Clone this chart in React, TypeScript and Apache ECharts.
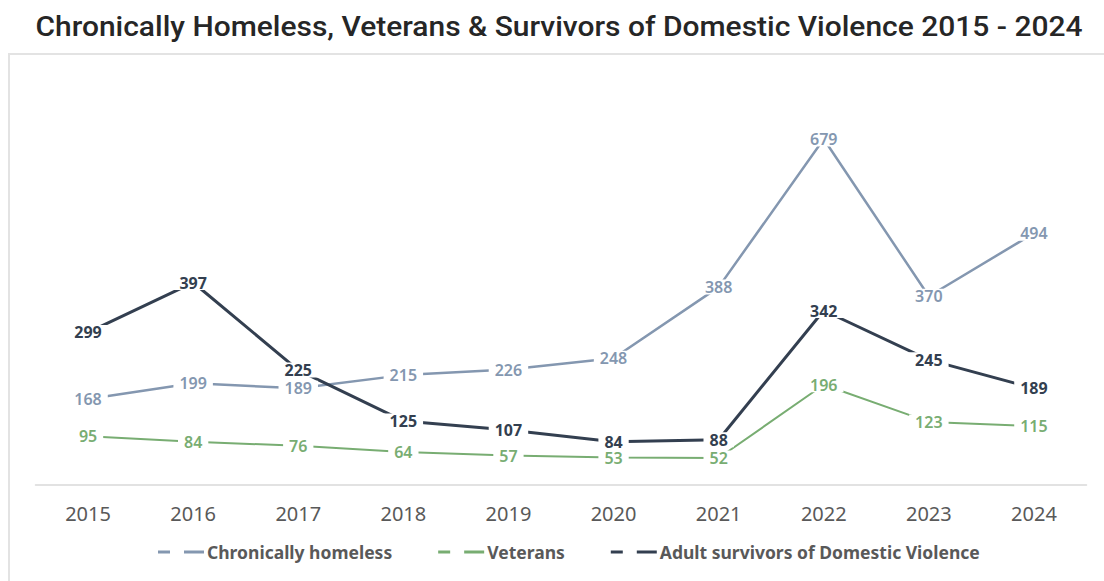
import React, { useEffect, useRef } from "react";
import * as echarts from "echarts";

const years = ["2015", "2016", "2017", "2018", "2019", "2020", "2021", "2022", "2023", "2024"];
const chronicallyHomeless = [168, 199, 189, 215, 226, 248, 388, 679, 370, 494];
const veterans = [95, 84, 76, 64, 57, 53, 52, 196, 123, 115];
const adultSurvivors = [299, 397, 225, 125, 107, 84, 88, 342, 245, 189];

const titleText = "Chronically Homeless, Veterans & Survivors of Domestic Violence 2015 - 2024";

const COLORS = {
  homeless: "#8497b0",
  veterans: "#78ad72",
  survivors: "#333f50",
};

const legendIcon = "path://M0,0h12v3h-12z M26,0h20v3h-20z";

function makeSeries(name: string, data: number[], color: string, width: number, bold: boolean) {
  return {
    name,
    type: "line",
    data,
    symbol: "circle",
    symbolSize: 1,
    itemStyle: { color },
    lineStyle: { color, width },
    label: {
      show: true,
      position: "inside",
      color,
      fontFamily: "Noto Sans",
      fontSize: 16,
      lineHeight: 15,
      fontWeight: bold ? "bold" : 600,
      backgroundColor: "#ffffff",
      padding: [0, 6],
    },
    emphasis: { disabled: true },
  };
}

export default function App() {
  const ref = useRef<HTMLDivElement>(null);
  useEffect(() => {
    document.body.style.margin = "0";
    const chart = echarts.init(ref.current!, null, { renderer: "svg" });
    chart.setOption({
      animation: false,
      backgroundColor: "#ffffff",
      graphic: [
        {
          type: "rect",
          shape: { x: 9, y: 54, width: 1110, height: 560 },
          style: { fill: "none", stroke: "#e3e3e3", lineWidth: 2 },
          z: -1,
        },
        {
          type: "text",
          x: 559,
          y: 27,
          scaleX: 1.11,
          style: {
            text: titleText,
            fontFamily: "Roboto",
            fontSize: 27,
            fontWeight: 500,
            fill: "#262626",
            textAlign: "center",
            textVerticalAlign: "middle",
          },
        },
      ],
      legend: {
        bottom: 15,
        left: 153,
        itemGap: 46,
        itemWidth: 46,
        itemHeight: 3,
        textStyle: { color: "#595959", fontFamily: "Noto Sans", fontSize: 17.5, fontWeight: "bold", padding: [0, 0, 0, -2] },
        data: [
          { name: "Chronically homeless", icon: legendIcon, itemStyle: { color: COLORS.homeless } },
          { name: "Veterans", icon: legendIcon, itemStyle: { color: COLORS.veterans } },
          { name: "Adult survivors of Domestic Violence", icon: legendIcon, itemStyle: { color: COLORS.survivors } },
        ],
      },
      grid: { left: 35.5, right: 17.5, top: 77.5, bottom: 96.5 },
      xAxis: {
        type: "category",
        data: years,
        boundaryGap: true,
        axisLine: { lineStyle: { color: "#d9d9d9", width: 1.5 } },
        axisTick: { show: false },
        axisLabel: { color: "#595959", fontFamily: "Noto Sans", fontSize: 20, margin: 19 },
      },
      yAxis: {
        type: "value",
        min: 0,
        max: 800,
        show: false,
        splitLine: { show: false },
      },
      series: [
        makeSeries("Chronically homeless", chronicallyHomeless, COLORS.homeless, 2.5, false),
        makeSeries("Veterans", veterans, COLORS.veterans, 2, false),
        makeSeries("Adult survivors of Domestic Violence", adultSurvivors, COLORS.survivors, 3, true),
      ],
    });
    return () => chart.dispose();
  }, []);
  return <div ref={ref} style={{ width: 1104, height: 581 }} />;
}
